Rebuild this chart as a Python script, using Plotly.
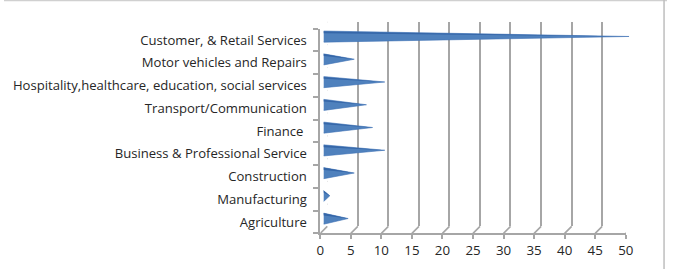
import numpy as np
import plotly.graph_objects as go

categories = ["Agriculture", "Manufacturing", "Construction", "Business & Professional Service",
              "Finance ", "Transport/Communication",
              "Hospitality,healthcare, education, social services",
              "Motor vehicles and Repairs", "Customer, & Retail Services"]
values = [4, 1, 5, 10, 8, 7, 10, 5, 50]
x_ticks = list(range(0, 55, 5))

W, H = 675, 269
def fx(p): return p / W
def fy(p): return (H - p) / H

# front plot box in pixels
X0, X1 = 322, 633
YB, YT = 233.4, 28.6
DEPTH = 7.0

GRID = "#A6A6A6"
FONT = "Open Sans"

fig = go.Figure()

# invisible trace so the back-wall subplot renders
fig.add_trace(go.Scatter(x=[0, 50], y=[-0.5, 8.5], mode="markers", marker=dict(opacity=0),
                         xaxis="x", yaxis="y", hoverinfo="skip", showlegend=False))

# cones
h = 0.25
rx = 0.32
th = np.linspace(0, np.pi, 12)
main_x, main_y, dark_x, dark_y = [], [], [], []
for i, v in enumerate(values):
    xs = [v, 0] + list(-rx * np.sin(th)) + [0, v]
    ys = [i, i + h] + list(i + h * np.cos(th)) + [i - h, i]
    main_x += xs + [None]; main_y += ys + [None]
    th2 = np.linspace(0, np.pi * 0.3, 5)
    dxs = [v, 0] + list(-rx * np.sin(th2)) + [0, v]
    dys = [i, i + h] + list(i + h * np.cos(th2)) + [i + h * 0.55, i]
    dark_x += dxs + [None]; dark_y += dys + [None]

fig.add_trace(go.Scatter(x=main_x, y=main_y, fill="toself", mode="lines",
                         line=dict(color="#3F72B5", width=0.6), fillcolor="#4F81BD",
                         xaxis="x2", yaxis="y2", hoverinfo="skip", showlegend=False))
fig.add_trace(go.Scatter(x=dark_x, y=dark_y, fill="toself", mode="lines",
                         line=dict(color="#2E5A96", width=0), fillcolor="#3566A8",
                         xaxis="x2", yaxis="y2", hoverinfo="skip", showlegend=False))

# invisible trace for front axes
fig.add_trace(go.Scatter(x=values, y=categories, mode="markers", marker=dict(opacity=0),
                         xaxis="x3", yaxis="y3", hoverinfo="skip", showlegend=False))

hidden = dict(showgrid=False, zeroline=False, showticklabels=False, ticks="", showline=False)

fig.update_layout(
    width=W, height=H,
    margin=dict(l=0, r=0, t=0, b=0),
    paper_bgcolor="white", plot_bgcolor="rgba(0,0,0,0)",
    font=dict(family=FONT, size=13.1, color="#262626"),
    xaxis=dict(domain=[fx(X0 + DEPTH), fx(X1 + DEPTH)], range=[0, 50], dtick=5, tick0=0,
               showgrid=True, gridcolor=GRID, gridwidth=1.6, zeroline=False,
               showticklabels=False, ticks="", anchor="y"),
    yaxis=dict(domain=[fy(YB - DEPTH), fy(YT - DEPTH)], range=[-0.5, 8.5], anchor="x", **hidden),
    xaxis2=dict(domain=[fx(X0 + DEPTH / 2), fx(X1 + DEPTH / 2)], range=[0, 50], anchor="y2", **hidden),
    yaxis2=dict(domain=[fy(YB - DEPTH / 2), fy(YT - DEPTH / 2)], range=[-0.5, 8.5], anchor="x2", **hidden),
    xaxis3=dict(domain=[fx(X0), fx(X1)], range=[0, 50], tickvals=x_ticks, anchor="y3",
                showgrid=False, zeroline=False, showline=True, linecolor=GRID, linewidth=1.6,
                ticks="outside", ticklen=4, tickcolor=GRID, tickwidth=1.6,
                tickfont=dict(size=13.3)),
    yaxis3=dict(domain=[fy(YB), fy(YT)], type="category", categoryarray=categories,
                categoryorder="array", range=[-0.5, 8.5], anchor="x3",
                showgrid=False, zeroline=False, showline=True, linecolor=GRID, linewidth=1.6,
                ticks="outside", ticklen=5, tickcolor=GRID, tickwidth=1.6,
                tickson="boundaries", ticklabelstandoff=9),
)

shapes = []
# floor diagonals from front ticks to back wall
for t in x_ticks:
    shapes.append(dict(type="line", xref="x3", yref="y3", xsizemode="pixel", ysizemode="pixel",
                       xanchor=t, yanchor=-0.5, x0=0, x1=DEPTH, y0=0, y1=DEPTH,
                       line=dict(color=GRID, width=1.6)))
# left wall diagonals at category boundaries
for k in range(len(categories) + 1):
    shapes.append(dict(type="line", xref="x", yref="y", xsizemode="pixel", ysizemode="pixel",
                       xanchor=0, yanchor=k - 0.5, x0=-DEPTH, x1=0, y0=-DEPTH, y1=0,
                       line=dict(color=GRID, width=1.2)))
# outer chart border (top and right edges visible)
shapes.append(dict(type="line", xref="paper", yref="paper", x0=0, x1=1, y0=0.998, y1=0.998,
                   line=dict(color="#D0D0D0", width=1.5)))
shapes.append(dict(type="line", xref="paper", yref="paper", x0=fx(672), x1=fx(672), y0=0, y1=1,
                   line=dict(color="#BEBEBE", width=1.5)))
fig.update_layout(shapes=shapes)

fig.write_html("out.html")
